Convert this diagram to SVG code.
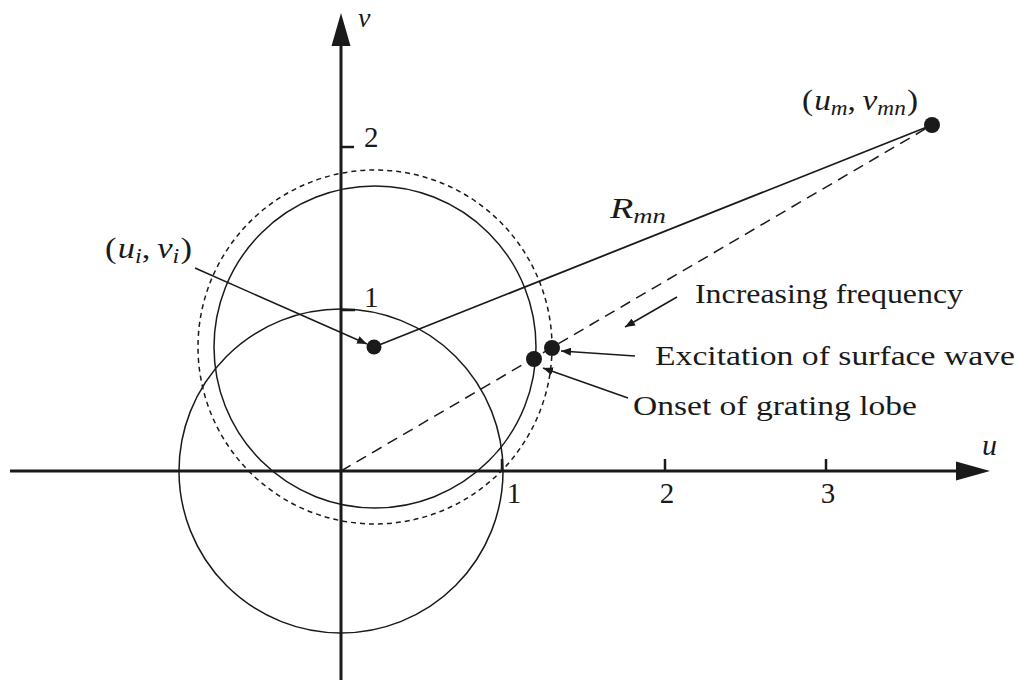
<svg xmlns="http://www.w3.org/2000/svg" width="1020" height="684" viewBox="0 0 1020 684">
<defs>
<style>
.ax{stroke:#1a1a1a;stroke-width:3;fill:none}
.tick{stroke:#1a1a1a;stroke-width:2.5;fill:none}
.circ{stroke:#1a1a1a;stroke-width:1.5;fill:none}
.dcirc{stroke:#1a1a1a;stroke-width:1.5;fill:none;stroke-dasharray:5 4}
.ln{stroke:#1a1a1a;stroke-width:1.8;fill:none}
.dln{stroke:#1a1a1a;stroke-width:1.5;fill:none;stroke-dasharray:11 7}
.arr{stroke:#1a1a1a;stroke-width:1.5;fill:none;marker-end:url(#ah)}
.dot{fill:#1a1a1a}
text{font-family:'Liberation Serif','Times New Roman','DejaVu Serif',serif;fill:#1a1a1a}
.lbl{font-size:27px}
.num{font-size:29px}
.m{font-size:30px}
.i{font-style:italic}
.s{font-size:21px;font-style:italic}
</style>
<marker id="ah" viewBox="0 0 10 8" refX="10" refY="4" markerWidth="10" markerHeight="8" markerUnits="userSpaceOnUse" orient="auto">
<path d="M0,0 L10,4 L0,8 Z" fill="#1a1a1a"/>
</marker>
</defs>
<rect width="1020" height="684" fill="#ffffff"/>

<g id="axes">
<line class="ax" x1="10" y1="471" x2="958" y2="471"/>
<path d="M990,471 L956,461.5 L956,480.5 Z" fill="#1a1a1a"/>
<line class="ax" x1="341" y1="680" x2="341" y2="44"/>
<path d="M341,13 L331.5,46 L350.5,46 Z" fill="#1a1a1a"/>
<line class="tick" x1="502" y1="471" x2="502" y2="459"/>
<line class="tick" x1="665" y1="471" x2="665" y2="459"/>
<line class="tick" x1="826" y1="471" x2="826" y2="459"/>
<line class="tick" x1="341" y1="310" x2="355" y2="310"/>
<line class="tick" x1="341" y1="147" x2="354" y2="147"/>
<text class="i" x="982" y="455" font-size="30">u</text>
<text class="i" x="358" y="27" font-size="28">v</text>
<text class="num" x="514" y="503" text-anchor="middle">1</text>
<text class="num" x="667" y="503" text-anchor="middle">2</text>
<text class="num" x="828" y="503" text-anchor="middle">3</text>
<text class="num" x="364" y="307">1</text>
<text class="num" x="364" y="147">2</text>
</g>

<g id="circles">
<circle id="unit-circle-origin" class="circ" cx="341" cy="471" r="162"/>
<circle id="unit-circle-point" class="circ" cx="375" cy="347" r="161"/>
<circle id="dashed-circle" class="dcirc" cx="375" cy="347" r="177"/>
</g>

<g id="connectors">
<line class="ln" x1="374" y1="347" x2="932" y2="125"/>
<line class="dln" x1="341" y1="471" x2="932" y2="125"/>
<line class="arr" x1="195" y1="268" x2="367" y2="344"/>
<line class="arr" x1="677" y1="297" x2="625" y2="327"/>
<line class="arr" x1="635" y1="356" x2="561" y2="351"/>
<line class="arr" x1="628" y1="398" x2="543" y2="368"/>
</g>

<g id="point-i">
<circle class="dot" cx="374" cy="347" r="7.5"/>
<text class="m" x="105" y="258" textLength="87" lengthAdjust="spacingAndGlyphs">(<tspan class="i" dx="1">u</tspan><tspan class="s" dy="5">i</tspan><tspan dy="-5">,</tspan><tspan class="i" dx="6">v</tspan><tspan class="s" dy="5">i</tspan><tspan dy="-5" dx="1">)</tspan></text>
</g>

<g id="point-mn">
<circle class="dot" cx="932" cy="125" r="8"/>
<text class="m" x="802" y="110" textLength="116" lengthAdjust="spacingAndGlyphs">(<tspan class="i" dx="1">u</tspan><tspan class="s" dy="5">m</tspan><tspan dy="-5">,</tspan><tspan class="i" dx="6">v</tspan><tspan class="s" dy="5">mn</tspan><tspan dy="-5" dx="1">)</tspan></text>
</g>

<g id="rmn-label">
<text class="m" x="610" y="218" textLength="56" lengthAdjust="spacingAndGlyphs"><tspan class="i">R</tspan><tspan class="s" dy="5">mn</tspan></text>
</g>

<g id="grating-lobe">
<circle class="dot" cx="534" cy="359" r="8"/>
<text class="lbl" x="633" y="415" textLength="284" lengthAdjust="spacingAndGlyphs">Onset of grating lobe</text>
</g>

<g id="surface-wave">
<circle class="dot" cx="552" cy="348" r="8"/>
<text class="lbl" x="655" y="365" textLength="360" lengthAdjust="spacingAndGlyphs">Excitation of surface wave</text>
</g>

<g id="increasing-frequency">
<text class="lbl" x="695" y="303" textLength="268" lengthAdjust="spacingAndGlyphs">Increasing frequency</text>
</g>
</svg>
